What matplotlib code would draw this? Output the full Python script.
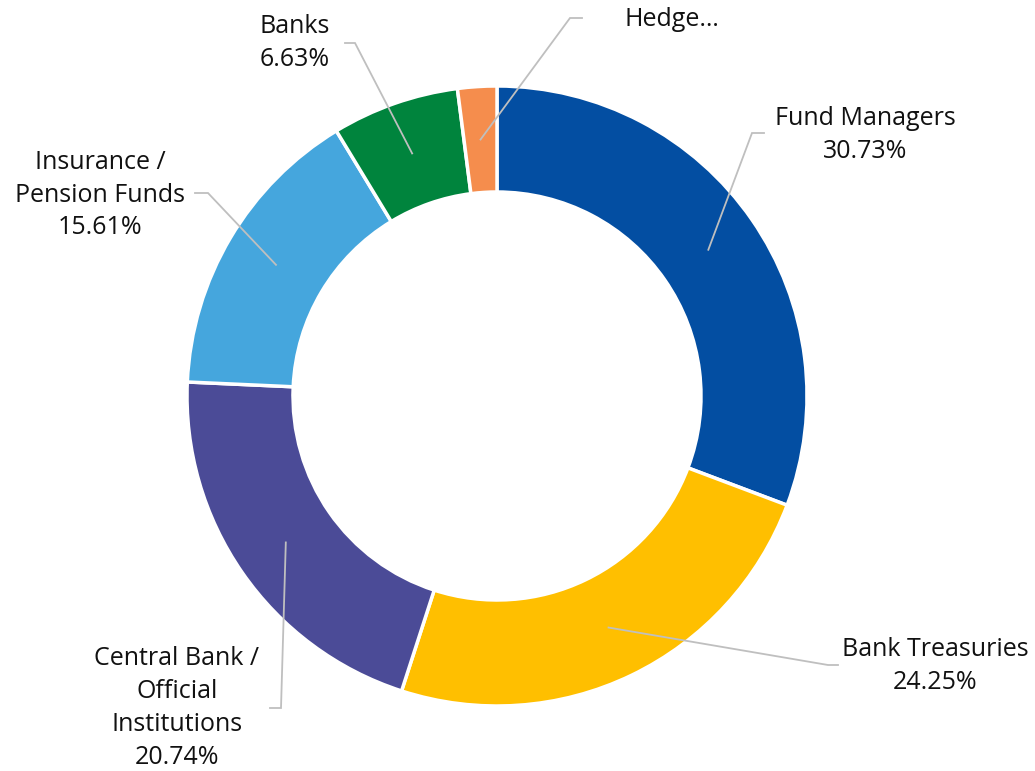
import numpy as np
import matplotlib; matplotlib.use("Agg")
import matplotlib.pyplot as plt

plt.rcParams['font.family'] = ['Open Sans', 'DejaVu Sans']

# investor distribution (%)
categories = ["Fund Managers", "Bank Treasuries", "Central Bank /\nOfficial\nInstitutions",
              "Insurance /\nPension Funds", "Banks", "Hedge…"]
shares = [30.73, 24.25, 20.74, 15.61, 6.63, 2.04]
show_pct = [True, True, True, True, True, False]
colors = ["#034ea2", "#ffbf00", "#4b4b97", "#45a6dd", "#00843d", "#f58d4d"]

W, H = 1035, 771
fig = plt.figure(figsize=(W/100, H/100), dpi=100)
ax = fig.add_axes([0, 0, 1, 1])

cx, cy, R, ring = 497, H-396, 310, 106
wedges, _ = ax.pie(shares, colors=colors, startangle=90, counterclock=False,
                   center=(cx, cy), radius=R, frame=True,
                   wedgeprops=dict(width=ring, edgecolor="white", linewidth=2.5))
ax.set_xlim(0, W); ax.set_ylim(0, H); ax.set_aspect("equal"); ax.axis("off")

# elbow of each leader line and the label anchor (pixel coords, y from top)
elbows = [(752, 133), (828, 665), (281, 708), (208, 193), (355, 43), (570, 18)]
ends = [(764, 133), (838, 665), (270, 708), (195, 193), (345, 43), (582, 18)]
label_xy = [(865, 135), (935, 666), (177, 708), (100, 195), (295, 43), (672, 20)]

rmid = R - ring/2
for w, cat, v, sp, el, en, lxy in zip(wedges, categories, shares, show_pct, elbows, ends, label_xy):
    ang = np.deg2rad((w.theta1 + w.theta2)/2)
    x0, y0 = cx + rmid*np.cos(ang), cy + rmid*np.sin(ang)
    ax.plot([x0, el[0], en[0]], [y0, H-el[1], H-en[1]], color="#bfbfbf", lw=1.3,
            solid_joinstyle="miter", zorder=5)
    txt = f"{cat}\n{v:.2f}%" if sp else cat
    ax.text(lxy[0], H-lxy[1], txt, ha="center", va="center", fontsize=18,
            color="#111111", linespacing=1.42)

fig.savefig("out.png", dpi=100)
